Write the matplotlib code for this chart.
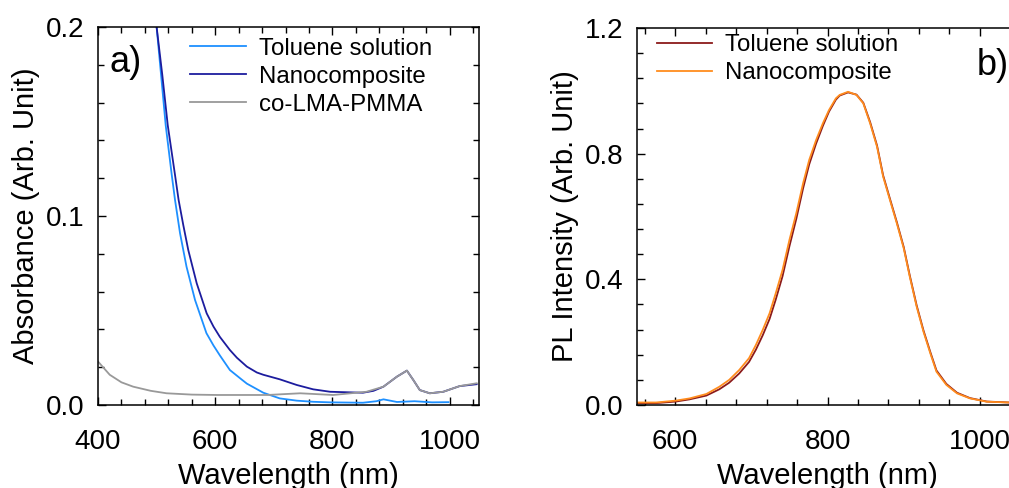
import matplotlib
matplotlib.use("Agg")
import matplotlib.pyplot as plt
from matplotlib.ticker import MultipleLocator, FormatStrFormatter

plt.rcParams['font.family'] = ['Liberation Sans', 'DejaVu Sans']

# ---------------- Panel a data (absorbance) ----------------
tol_a_wl = [480, 490, 500, 507.5, 515.5, 525.7, 531.4, 540, 551, 565.5, 585, 597, 608, 625, 645, 654,
            682, 710, 739, 767, 796, 852, 875, 887, 910, 940, 970, 998]
tol_a_abs = [0.270, 0.234, 0.200, 0.175, 0.148, 0.122, 0.1085, 0.0908, 0.0732, 0.0556, 0.038, 0.0315,
             0.0262, 0.0185, 0.0135, 0.0113, 0.0065, 0.0035, 0.0023, 0.0017, 0.0014, 0.0012, 0.0020,
             0.0030, 0.0016, 0.0020, 0.0014, 0.0015]

nano_a_wl = [480, 490, 500, 509.7, 519, 531.4, 537.5, 545.5, 554, 568.4, 585.4, 597, 608, 625, 637,
             654, 671, 682, 710, 739, 767, 796, 852, 870, 887, 910, 927, 938, 949, 966, 989, 1017, 1046]
nano_a_abs = [0.280, 0.238, 0.200, 0.1746, 0.148, 0.1217, 0.1085, 0.0952, 0.082, 0.0644, 0.0485,
              0.0415, 0.0360, 0.0291, 0.0250, 0.0203, 0.0172, 0.0160, 0.0136, 0.0106, 0.0083, 0.0070,
              0.0065, 0.0075, 0.0097, 0.0150, 0.0182, 0.0132, 0.0079, 0.0062, 0.0070, 0.0100, 0.0110]

pmma_wl = [400, 420, 440, 460, 490, 517, 560, 603, 689, 745, 801, 858, 887, 910, 927, 938, 949, 966,
           989, 1017, 1046]
pmma_abs = [0.023, 0.016, 0.012, 0.0097, 0.0075, 0.0062, 0.0055, 0.0053, 0.0053, 0.0062, 0.0053, 0.0070,
            0.0097, 0.0150, 0.0182, 0.0132, 0.0079, 0.0062, 0.0070, 0.0100, 0.0115]

# ---------------- Panel b data (PL) ----------------
pl_nano_wl = [550, 575, 601, 619, 641, 658, 671, 684, 697, 706, 715, 724, 732, 741, 750, 759, 768,
              776, 785, 794, 802, 811, 816, 827, 838, 847, 856, 865, 873, 882, 891, 900, 908, 917,
              926, 935, 943, 956, 970, 987, 1009, 1038, 1050]
pl_nano_int = [0.008, 0.008, 0.014, 0.021, 0.035, 0.058, 0.080, 0.111, 0.149, 0.191, 0.239, 0.292,
               0.355, 0.430, 0.525, 0.610, 0.706, 0.780, 0.843, 0.897, 0.939, 0.976, 0.987, 0.997,
               0.987, 0.960, 0.896, 0.822, 0.727, 0.652, 0.578, 0.499, 0.408, 0.313, 0.233, 0.164,
               0.106, 0.064, 0.037, 0.021, 0.0105, 0.008, 0.008]

pl_tol_wl = [550, 575, 601, 619, 641, 658, 671, 684, 697, 706, 715, 724, 732, 741, 750, 759, 768,
             776, 785, 794, 802, 811, 816, 827, 838, 847, 856, 865, 873, 882, 891, 900, 908, 917,
             926, 935, 943, 956, 970, 987, 1009, 1038, 1050]
pl_tol_int = [0.006, 0.006, 0.011, 0.018, 0.030, 0.050, 0.071, 0.100, 0.137, 0.176, 0.222, 0.274,
              0.335, 0.410, 0.505, 0.592, 0.690, 0.766, 0.832, 0.889, 0.934, 0.972, 0.985, 0.995,
              0.988, 0.962, 0.900, 0.826, 0.731, 0.656, 0.582, 0.503, 0.412, 0.317, 0.237, 0.168,
              0.110, 0.067, 0.039, 0.022, 0.011, 0.008, 0.008]

labels_a = ["Toluene solution", "Nanocomposite", "co-LMA-PMMA"]
labels_b = ["Toluene solution", "Nanocomposite"]

c_tol_a = "#1E90FF"
c_nano_a = "#1C1C9E"
c_pmma = "#999999"
c_tol_b = "#8B1A1A"
c_nano_b = "#FF8C1E"

W, H = 1009, 488
fig = plt.figure(figsize=(W / 100, H / 100), dpi=100)

ax1 = fig.add_axes([98 / W, (H - 405) / H, 381 / W, 378 / H])
ax2 = fig.add_axes([637 / W, (H - 405) / H, 381 / W, 377 / H])

lw = 1.3
ax1.plot(tol_a_wl, tol_a_abs, color=c_tol_a, lw=lw, label=labels_a[0])
ax1.plot(nano_a_wl, nano_a_abs, color=c_nano_a, lw=lw, label=labels_a[1])
ax1.plot(pmma_wl, pmma_abs, color=c_pmma, lw=lw, label=labels_a[2])
ax1.set_xlim(400, 1050)
ax1.set_ylim(0, 0.2)
ax1.xaxis.set_major_locator(MultipleLocator(200))
ax1.xaxis.set_minor_locator(MultipleLocator(40))
ax1.yaxis.set_major_locator(MultipleLocator(0.1))
ax1.yaxis.set_minor_locator(MultipleLocator(0.02))
ax1.yaxis.set_major_formatter(FormatStrFormatter('%.1f'))
ax1.set_xlabel("Wavelength (nm)", fontsize=21, labelpad=5)
ax1.set_ylabel("Absorbance (Arb. Unit)", fontsize=21, labelpad=4)
ax1.text(0.03, 0.905, "a)", transform=ax1.transAxes, fontsize=26, va='center', ha='left')
ax1.legend(loc='upper left', bbox_to_anchor=(0.236, 0.978), frameon=False, fontsize=17.3,
           handlelength=2.3, handletextpad=0.55, labelspacing=0.25, borderpad=0.1, borderaxespad=0)

ax2.plot(pl_tol_wl, pl_tol_int, color=c_tol_b, lw=lw, label=labels_b[0])
ax2.plot(pl_nano_wl, pl_nano_int, color=c_nano_b, lw=lw, label=labels_b[1])
ax2.set_xlim(550, 1050)
ax2.set_ylim(0, 1.2)
ax2.xaxis.set_major_locator(MultipleLocator(200))
ax2.xaxis.set_minor_locator(MultipleLocator(40))
ax2.yaxis.set_major_locator(MultipleLocator(0.4))
ax2.yaxis.set_minor_locator(MultipleLocator(0.08))
ax2.yaxis.set_major_formatter(FormatStrFormatter('%.1f'))
ax2.set_xlabel("Wavelength (nm)", fontsize=21, labelpad=5)
ax2.set_ylabel("PL Intensity (Arb. Unit)", fontsize=21, labelpad=4)
ax2.text(0.893, 0.9, "b)", transform=ax2.transAxes, fontsize=26, va='center', ha='left')
ax2.legend(loc='upper left', bbox_to_anchor=(0.045, 0.99), frameon=False, fontsize=17.3,
           handlelength=2.3, handletextpad=0.55, labelspacing=0.25, borderpad=0.1, borderaxespad=0)

for ax in (ax1, ax2):
    for s in ax.spines.values():
        s.set_linewidth(1.1)
    ax.tick_params(which='both', direction='in', top=True, right=True, width=1.0)
    ax.tick_params(which='major', length=6)
    ax.tick_params(which='minor', length=4)
    ax.tick_params(axis='x', which='major', labelsize=20, pad=17)
    ax.tick_params(axis='y', which='major', labelsize=20, pad=10)

fig.savefig("out.png", dpi=100)
